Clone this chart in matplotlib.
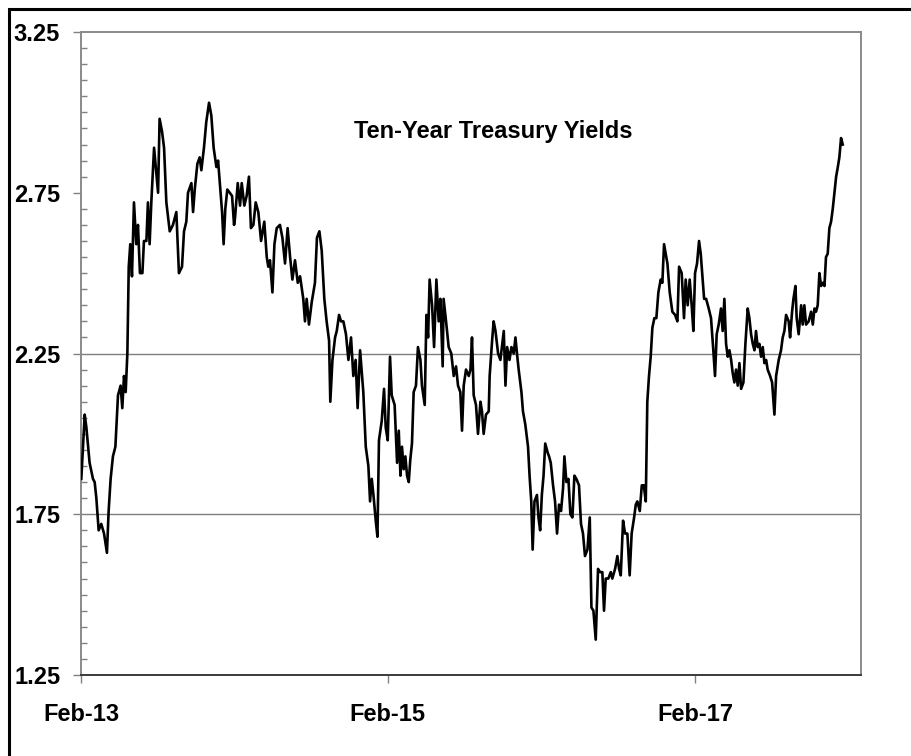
import numpy as np
import pandas as pd
import matplotlib
matplotlib.use("Agg")
import matplotlib.pyplot as plt
import matplotlib.dates as mdates
from matplotlib.ticker import MultipleLocator
from matplotlib.patches import Rectangle

plt.rcParams['font.family'] = ['Liberation Sans', 'DejaVu Sans']

# years elapsed since Feb 1 2013, and the ten-year yield (%)
years_since_start = [
    0.002, 0.024, 0.035, 0.056, 0.078, 0.089, 0.100, 0.115, 0.132, 0.150,
    0.169, 0.180, 0.193, 0.208, 0.224, 0.241, 0.258, 0.269, 0.280, 0.291,
    0.302, 0.311, 0.321, 0.332, 0.345, 0.360, 0.371, 0.384, 0.400, 0.410,
    0.426, 0.436, 0.447, 0.458, 0.476, 0.491, 0.502, 0.512, 0.528, 0.541,
    0.556, 0.578, 0.599, 0.621, 0.638, 0.658, 0.671, 0.686, 0.697, 0.719,
    0.730, 0.741, 0.758, 0.773, 0.784, 0.801, 0.816, 0.834, 0.849, 0.864,
    0.882, 0.893, 0.908, 0.919, 0.929, 0.940, 0.953, 0.969, 0.984, 0.997,
    1.003, 1.021, 1.036, 1.047, 1.064, 1.079, 1.094, 1.107, 1.123, 1.138,
    1.155, 1.173, 1.194, 1.210, 1.220, 1.231, 1.247, 1.260, 1.275, 1.296,
    1.312, 1.329, 1.346, 1.362, 1.377, 1.394, 1.412, 1.427, 1.448, 1.459,
    1.470, 1.485, 1.503, 1.524, 1.537, 1.553, 1.568, 1.585, 1.600, 1.616,
    1.624, 1.638, 1.655, 1.666, 1.681, 1.694, 1.709, 1.726, 1.742, 1.759,
    1.774, 1.789, 1.802, 1.818, 1.828, 1.839, 1.855, 1.872, 1.883, 1.894,
    1.905, 1.920, 1.931, 1.941, 1.959, 1.974, 1.985, 1.998, 2.013, 2.024,
    2.043, 2.059, 2.070, 2.081, 2.091, 2.102, 2.113, 2.124, 2.135, 2.145,
    2.156, 2.167, 2.182, 2.195, 2.211, 2.221, 2.239, 2.250, 2.261, 2.271,
    2.287, 2.300, 2.315, 2.330, 2.341, 2.356, 2.362, 2.378, 2.395, 2.412,
    2.428, 2.443, 2.456, 2.471, 2.482, 2.493, 2.508, 2.526, 2.537, 2.547,
    2.558, 2.573, 2.586, 2.602, 2.612, 2.623, 2.638, 2.656, 2.662, 2.678,
    2.688, 2.700, 2.717, 2.732, 2.754, 2.765, 2.776, 2.791, 2.804, 2.819,
    2.830, 2.840, 2.851, 2.869, 2.879, 2.894, 2.912, 2.922, 2.933, 2.942,
    2.954, 2.970, 2.980, 2.991, 3.002, 3.013, 3.024, 3.041,
    3.049, 3.060, 3.075, 3.088, 3.101, 3.114, 3.127, 3.140, 3.149, 3.162,
    3.175, 3.188, 3.201, 3.214, 3.227, 3.244, 3.257, 3.270, 3.283, 3.299,
    3.314, 3.325, 3.338, 3.353, 3.368, 3.381, 3.396, 3.407, 3.418, 3.435,
    3.451, 3.461, 3.479, 3.494, 3.505, 3.516, 3.531, 3.544, 3.559, 3.574,
    3.587, 3.603, 3.614, 3.624, 3.640, 3.653, 3.666, 3.679, 3.689, 3.700,
    3.711, 3.722, 3.735, 3.748, 3.761, 3.776, 3.787, 3.798, 3.809, 3.820,
    3.835, 3.852, 3.870, 3.885, 3.896, 3.913, 3.928, 3.939, 3.952, 3.965,
    3.978, 3.989, 4.000, 4.013, 4.026, 4.037, 4.048, 4.059,
    4.072, 4.089, 4.104, 4.119, 4.130, 4.141, 4.154, 4.169, 4.180, 4.191,
    4.202, 4.213, 4.224, 4.235, 4.245, 4.256, 4.267, 4.278, 4.289, 4.300,
    4.315, 4.328, 4.343, 4.354, 4.365, 4.376, 4.387, 4.397, 4.408, 4.419,
    4.430, 4.441, 4.452, 4.463, 4.473, 4.489, 4.502, 4.517, 4.528, 4.545,
    4.560, 4.571, 4.582, 4.593, 4.610, 4.619, 4.632, 4.641, 4.654, 4.662,
    4.675, 4.691, 4.701, 4.712, 4.723, 4.740, 4.756, 4.767, 4.778, 4.788,
    4.799, 4.810, 4.821, 4.832, 4.843, 4.853, 4.864, 4.875, 4.886, 4.897,
    4.908, 4.919, 4.930, 4.940, 4.951, 4.962,
]

yields = [
    1.86, 2.06, 2.02, 1.91, 1.86, 1.85, 1.80, 1.70, 1.72, 1.69,
    1.63, 1.76, 1.86, 1.93, 1.96, 2.12, 2.15, 2.08, 2.18, 2.13,
    2.25, 2.52, 2.59, 2.49, 2.72, 2.59, 2.65, 2.50, 2.50, 2.60,
    2.60, 2.72, 2.59, 2.72, 2.89, 2.81, 2.75, 2.98, 2.94, 2.89,
    2.72, 2.63, 2.65, 2.69, 2.50, 2.52, 2.63, 2.66, 2.75, 2.78,
    2.69, 2.76, 2.84, 2.86, 2.82, 2.89, 2.97, 3.03, 2.99, 2.89,
    2.83, 2.85, 2.76, 2.69, 2.59, 2.70, 2.76, 2.75, 2.74, 2.65,
    2.67, 2.78, 2.71, 2.78, 2.71, 2.74, 2.80, 2.64, 2.65, 2.72,
    2.69, 2.60, 2.66, 2.55, 2.52, 2.54, 2.44, 2.59, 2.64, 2.65,
    2.61, 2.53, 2.64, 2.55, 2.48, 2.54, 2.47, 2.49, 2.42, 2.35,
    2.42, 2.34, 2.41, 2.47, 2.61, 2.63, 2.57, 2.42, 2.35, 2.29,
    2.10, 2.23, 2.30, 2.32, 2.37, 2.35, 2.35, 2.31, 2.23, 2.30,
    2.18, 2.23, 2.08, 2.26, 2.20, 2.13, 1.96, 1.90, 1.79, 1.86,
    1.81, 1.73, 1.68, 1.98, 2.04, 2.14, 2.02, 1.98, 2.24, 2.12,
    2.09, 1.91, 2.01, 1.87, 1.96, 1.89, 1.93, 1.87, 1.85, 1.92,
    1.97, 2.13, 2.15, 2.27, 2.23, 2.15, 2.09, 2.37, 2.30, 2.48,
    2.40, 2.27, 2.48, 2.35, 2.42, 2.21, 2.42, 2.35, 2.27, 2.25,
    2.18, 2.21, 2.15, 2.13, 2.01, 2.15, 2.20, 2.18, 2.20, 2.30,
    2.12, 2.09, 2.00, 2.10, 2.07, 2.00, 2.06, 2.07, 2.18, 2.29,
    2.35, 2.32, 2.25, 2.23, 2.32, 2.15, 2.27, 2.23, 2.27, 2.25,
    2.30, 2.25, 2.20, 2.13, 2.07, 2.03, 1.96, 1.87, 1.79, 1.64,
    1.79, 1.81, 1.74, 1.70, 1.81, 1.87, 1.97, 1.94,
    1.93, 1.91, 1.84, 1.79, 1.69, 1.78, 1.76, 1.83, 1.93, 1.85,
    1.86, 1.75, 1.74, 1.87, 1.86, 1.84, 1.72, 1.69, 1.62, 1.64,
    1.74, 1.46, 1.45, 1.36, 1.58, 1.57, 1.57, 1.45, 1.55, 1.55,
    1.57, 1.55, 1.58, 1.62, 1.58, 1.56, 1.73, 1.69, 1.69, 1.56,
    1.69, 1.74, 1.78, 1.79, 1.76, 1.84, 1.84, 1.79, 2.10, 2.18,
    2.24, 2.33, 2.36, 2.36, 2.44, 2.48, 2.47, 2.59, 2.56, 2.53,
    2.44, 2.38, 2.37, 2.35, 2.52, 2.50, 2.36, 2.48, 2.40, 2.48,
    2.40, 2.32, 2.50, 2.53, 2.60, 2.56, 2.49, 2.42,
    2.42, 2.39, 2.36, 2.26, 2.18, 2.31, 2.34, 2.39, 2.32, 2.42,
    2.28, 2.24, 2.26, 2.23, 2.19, 2.16, 2.20, 2.15, 2.22, 2.14,
    2.16, 2.28, 2.39, 2.36, 2.31, 2.28, 2.26, 2.32, 2.27, 2.28,
    2.24, 2.27, 2.22, 2.23, 2.20, 2.18, 2.16, 2.06, 2.18, 2.23,
    2.26, 2.30, 2.32, 2.37, 2.35, 2.30, 2.38, 2.42, 2.46, 2.36,
    2.31, 2.40, 2.34, 2.40, 2.34, 2.35, 2.38, 2.34, 2.39, 2.38,
    2.40, 2.50, 2.46, 2.47, 2.46, 2.55, 2.56, 2.64, 2.66, 2.70,
    2.75, 2.80, 2.83, 2.86, 2.92, 2.90,
]

tick_dates = ["2013-02-01", "2015-02-01", "2017-02-01"]
y_ticks = [1.25, 1.75, 2.25, 2.75, 3.25]
grid_levels = [1.75, 2.25]
title = "Ten-Year Treasury Yields"

start = pd.Timestamp("2013-02-01")
dates = start + pd.to_timedelta(np.array(years_since_start) * 365.25, unit="D")

W, H = 911, 756
fig = plt.figure(figsize=(W / 100, H / 100), dpi=100)
ax = fig.add_axes([81 / W, 1 - 675 / H, 780 / W, 643 / H])

for lvl in grid_levels:
    ax.axhline(lvl, color="#7f7f7f", lw=1.0, zorder=1)

ax.plot(dates, yields, color="black", lw=1.9, zorder=3)

ax.set_ylim(1.25, 3.25)
ax.set_xlim(start, start + pd.Timedelta(days=5.081 * 365.25))

ax.set_yticks(y_ticks)
ax.set_yticklabels([f"{v:.2f}" for v in y_ticks])
ax.yaxis.set_minor_locator(MultipleLocator(0.05))
ax.set_xticks(pd.to_datetime(tick_dates))
ax.xaxis.set_major_formatter(mdates.DateFormatter("%b-%y"))

fs = 17
ax.tick_params(axis="y", which="major", direction="out", length=6, width=1,
               color="#808080", pad=9, labelsize=fs)
ax.tick_params(axis="y", which="minor", direction="in", length=4.5, width=1,
               color="#808080")
ax.tick_params(axis="x", which="major", direction="out", length=6, width=1,
               color="#808080", pad=14, labelsize=fs)
for lab in ax.get_xticklabels() + ax.get_yticklabels():
    lab.set_fontweight("bold")

for side in ["left", "top", "right"]:
    ax.spines[side].set_color("#8a8a8a")
    ax.spines[side].set_linewidth(1.4)
ax.spines["bottom"].set_color("#3a3a3a")
ax.spines["bottom"].set_linewidth(1.4)

ax.text(0.529, 0.835, title, transform=ax.transAxes, ha="center",
        va="baseline", fontsize=fs, fontweight="bold")

# outer frame, only left and top edges are inside the picture
fig.patches.append(Rectangle((9 / W, -0.5), 2, 1.5 - 9 / H, transform=fig.transFigure,
                             fill=False, edgecolor="black", lw=2.2, clip_on=False))

fig.savefig("out.png", dpi=100)
